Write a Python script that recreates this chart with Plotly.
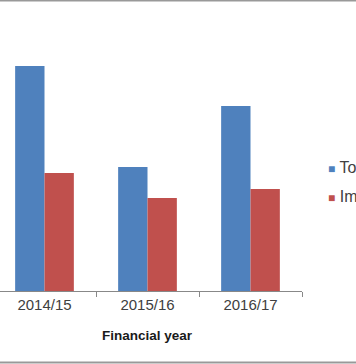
import plotly.graph_objects as go

categories = ["2014/15", "2015/16", "2016/17"]
series_names = ["Total", "Imports"]
series_colors = ["#4F81BD", "#C0504D"]
total_values = [225, 124, 185]
import_values = [118, 93, 102]
x_title = "Financial year"

W, H = 356, 364
ml, mr, mt, mb = 0, 54, 0, 73
plot_w = W - ml - mr
plot_h = H - mt - mb

def px_x(p):
    return (p - ml) / plot_w

def px_y(p):
    return 1 - (p - mt) / plot_h

fig = go.Figure()
for name, vals, col in zip(series_names, [total_values, import_values], series_colors):
    fig.add_trace(go.Bar(name=name, x=categories, y=vals, showlegend=False,
                         marker=dict(color=col, line=dict(width=0))))

legend_ann = []
for i, (name, col) in enumerate(zip(series_names, series_colors)):
    legend_ann.append(dict(
        text="<span style='color:%s;font-size:12px'>■</span> %s" % (col, name),
        xref="paper", yref="paper", x=px_x(326), y=px_y(167.5 + 28.5 * i),
        xanchor="left", yanchor="middle", showarrow=False,
        font=dict(family="Liberation Sans", size=16, color="#404040")))

fig.update_layout(
    width=W, height=H,
    margin=dict(l=ml, r=mr, t=mt, b=mb, pad=0, autoexpand=False),
    paper_bgcolor="white", plot_bgcolor="white",
    barmode="group", bargap=0.43, bargroupgap=0,
    showlegend=False,
    xaxis=dict(type="category", range=[-0.432, 2.5], showline=True,
               linecolor="#888888", linewidth=1, ticks="outside",
               tickson="boundaries", ticklen=5, tickcolor="#888888",
               tickfont=dict(family="Liberation Sans", size=15, color="#404040"),
               showgrid=False, zeroline=False, fixedrange=True),
    yaxis=dict(range=[0, plot_h], visible=False, showgrid=False,
               zeroline=False, fixedrange=True),
    annotations=[dict(text="<b>" + x_title + "</b>", x=1, xref="x",
                      y=px_y(335.5), yref="paper",
                      xanchor="center", yanchor="middle", showarrow=False,
                      font=dict(family="Liberation Sans", size=13.5, color="#1a1a1a"))] + legend_ann,
    shapes=[
        dict(type="line", xref="paper", yref="paper", x0=0, x1=W / plot_w,
             y0=px_y(0.5), y1=px_y(0.5),
             line=dict(color="#999999", width=2)),
        dict(type="line", xref="paper", yref="paper", x0=0, x1=W / plot_w,
             y0=px_y(362.5), y1=px_y(362.5),
             line=dict(color="#999999", width=2)),
    ],
)

fig.write_html("out.html", config={"displayModeBar": False},
               post_script="document.body.style.margin='0';document.body.style.overflow='hidden';")
